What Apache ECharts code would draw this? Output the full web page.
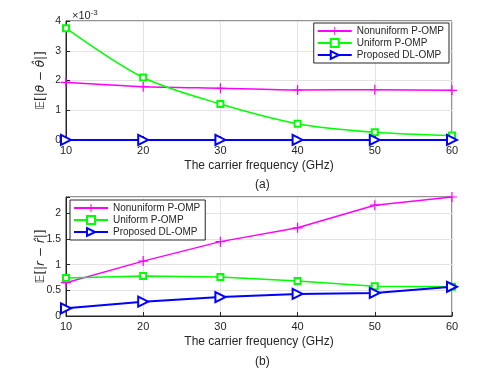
<!DOCTYPE html>
<html>
<head>
<meta charset="utf-8">
<script src="https://cdn.jsdelivr.net/npm/echarts@6/dist/echarts.min.js"></script>
<style>
  html, body { margin: 0; padding: 0; background: #fff; }
  #chart { width: 498px; height: 374px; }
</style>
</head>
<body>
<div id="chart"></div>
<script>
// carrier frequency (GHz)
const freq = [10, 20, 30, 40, 50, 60];

// (a) angle error, x1e-3
const angNonuniform = [1.94, 1.79, 1.74, 1.68, 1.69, 1.67];
const angUniform = [3.76, 2.10, 1.21, 0.55, 0.26, 0.15];
const angProposed = [0.002, 0.002, 0.002, 0.002, 0.002, 0.002];

// (b) distance error
const rNonuniform = [0.65, 1.07, 1.45, 1.72, 2.16, 2.32];
const rUniform = [0.74, 0.78, 0.76, 0.68, 0.58, 0.57];
const rProposed = [0.15, 0.28, 0.37, 0.43, 0.45, 0.57];

const names = ["Nonuniform P-OMP", "Uniform P-OMP", "Proposed DL-OMP"];
const colors = ["#ff00ff", "#00ff00", "#0000ff"];
const plusPath = "path://M4.4,0h1.2v4.4h4.4v1.2h-4.4v4.4h-1.2v-4.4h-4.4v-1.2h4.4z";

const pairs = (ys) => freq.map((f, i) => [f, ys[i]]);
const font = "Liberation Sans, Arial, sans-serif";
const axisColor = "#262626";

function xAxisOf(idx, label) {
  return {
    type: "value", gridIndex: idx, min: 10, max: 60, interval: 10,
    name: label, nameLocation: "middle", nameGap: 20, nameMoveOverlap: false,
    nameTextStyle: { color: "#262626", fontSize: 12, fontFamily: font },
    axisLine: { lineStyle: { color: axisColor } },
    axisTick: { inside: true, length: 4, lineStyle: { color: axisColor } },
    axisLabel: { color: "#262626", fontSize: 11, fontFamily: font, margin: 5 },
    splitLine: { show: true, lineStyle: { color: "#e3e3e3" } }
  };
}

function yAxisOf(idx, max, interval, nameRich) {
  return {
    type: "value", gridIndex: idx, min: 0, max: max, interval: interval,
    name: nameRich, nameLocation: "middle", nameGap: 19, nameRotate: 90, nameMoveOverlap: false,
    nameTextStyle: {
      color: "#262626", fontSize: 12, fontFamily: "DejaVu Serif",
      rich: {
        e: { fontFamily: "DejaVu Sans", fontSize: 12, color: "#262626" },
        i: { fontFamily: "DejaVu Sans", fontStyle: "oblique", fontSize: 12, color: "#262626" }
      }
    },
    axisLine: { show: true, lineStyle: { color: axisColor } },
    axisTick: { inside: true, length: 4, lineStyle: { color: axisColor } },
    axisLabel: {
      color: "#262626", fontSize: 10.5, fontFamily: font, margin: 5,
      formatter: (v) => (Math.abs(v / interval - Math.round(v / interval)) < 1e-6 ? String(v) : "")
    },
    splitLine: { show: true, lineStyle: { color: "#e3e3e3" } }
  };
}

function seriesOf(idx, data) {
  return [
    {
      name: names[0], type: "line", xAxisIndex: idx, yAxisIndex: idx, data: pairs(data[0]),
      symbol: plusPath, symbolSize: 10, smooth: idx === 0 ? 0.2 : false,
      lineStyle: { color: colors[0], width: 1.5 }, itemStyle: { color: colors[0] }
    },
    {
      name: names[1], type: "line", xAxisIndex: idx, yAxisIndex: idx, data: pairs(data[1]),
      symbol: "emptyRect", symbolSize: 6, smooth: idx === 0 ? 0.3 : false,
      lineStyle: { color: colors[1], width: 1.5 },
      itemStyle: { color: colors[1], borderColor: colors[1], borderWidth: 1.2 }
    },
    {
      name: names[2], type: "line", xAxisIndex: idx, yAxisIndex: idx, data: pairs(data[2]),
      symbol: "emptyTriangle", symbolSize: 10, symbolRotate: -90,
      lineStyle: { color: colors[2], width: 2 },
      itemStyle: { color: colors[2], borderColor: colors[2], borderWidth: 1.5 }
    }
  ];
}

function legendOf(idx, pos) {
  return Object.assign({
    data: names.map((n) => ({ name: n })),
    orient: "vertical",
    backgroundColor: "#fff",
    borderColor: "#262626", borderWidth: 1, borderRadius: 0,
    padding: [3, 5, 3, 3], itemGap: 2, itemWidth: 34, itemHeight: 10,
    textStyle: { color: "#262626", fontSize: 10, fontFamily: font }
  }, pos);
}

const chart = echarts.init(document.getElementById("chart"));
chart.setOption({
  animation: false,
  backgroundColor: "#fff",
  title: [
    {
      text: "×10{s|-3}", left: 67, top: 4,
      textStyle: { fontSize: 11, fontWeight: "normal", color: "#262626", fontFamily: font,
        rich: { s: { fontSize: 8, verticalAlign: "top", padding: [0, 0, 6, 0], color: "#262626", fontFamily: font } } }
    },
    { text: "(a)", left: 250, top: 174, textStyle: { fontSize: 12, fontWeight: "normal", color: "#262626", fontFamily: font } },
    { text: "(b)", left: 250, top: 351, textStyle: { fontSize: 12, fontWeight: "normal", color: "#262626", fontFamily: font } }
  ],
  grid: [
    { left: 66, right: 46, top: 21, height: 119, show: true, borderColor: axisColor, borderWidth: 1, backgroundColor: "#fff" },
    { left: 66, right: 46, top: 197, height: 119, show: true, borderColor: axisColor, borderWidth: 1, backgroundColor: "#fff" }
  ],
  legend: [
    legendOf(0, { right: 49, top: 23 }),
    legendOf(1, { left: 70, top: 200 })
  ],
  xAxis: [
    xAxisOf(0, "The carrier frequency (GHz)"),
    xAxisOf(1, "The carrier frequency (GHz)")
  ],
  yAxis: [
    yAxisOf(0, 4, 1, "{e|𝔼}[|{i|θ} − {i|θ̂}|]"),
    yAxisOf(1, 2.32, 0.5, "{e|𝔼}[|{i|r} − {i|r̂}|]")
  ],
  series: [
    ...seriesOf(0, [angNonuniform, angUniform, angProposed]),
    ...seriesOf(1, [rNonuniform, rUniform, rProposed])
  ]
});
</script>
</body>
</html>
